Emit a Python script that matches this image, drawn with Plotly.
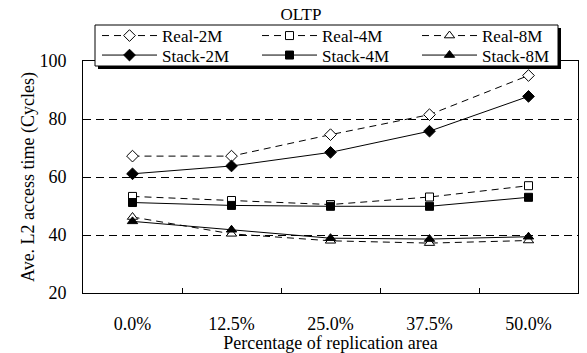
import plotly.graph_objects as go

# Replication area percentages (x categories)
categories = ["0.0%", "12.5%", "25.0%", "37.5%", "50.0%"]

# Average L2 access time (cycles)
real_2m = [67.2, 67.2, 74.6, 81.5, 95.0]
real_4m = [53.3, 51.9, 50.5, 53.1, 57.0]
real_8m = [46.2, 40.4, 38.0, 37.2, 38.1]
stack_2m = [61.1, 63.8, 68.5, 75.8, 87.8]
stack_4m = [51.2, 50.2, 49.9, 49.9, 53.0]
stack_8m = [44.7, 41.8, 38.9, 38.6, 39.4]

W, H = 587, 353
L, R, T, B = 83, 9, 61, 60
FONT = "Liberation Serif"

# name, values, symbol, fill, dash, size, legend row
series = [
    ("Real-2M", real_2m, "diamond", "white", "7px,5px", 9, "legend"),
    ("Real-4M", real_4m, "square", "white", "7px,5px", 8, "legend"),
    ("Real-8M", real_8m, "triangle-up", "white", "7px,5px", 9, "legend"),
    ("Stack-2M", stack_2m, "diamond", "black", "solid", 9, "legend2"),
    ("Stack-4M", stack_4m, "square", "black", "solid", 8, "legend2"),
    ("Stack-8M", stack_8m, "triangle-up", "black", "solid", 9, "legend2"),
]

fig = go.Figure()
for name, vals, sym, fill, dash, size, leg in series:
    fig.add_trace(go.Scatter(
        x=categories, y=vals, name=name, mode="lines+markers",
        line=dict(color="black", width=1, dash=dash),
        marker=dict(symbol=sym, size=size, color=fill,
                    line=dict(color="black", width=1)),
        legend=leg,
    ))

# legend frame with drop shadow, in paper coordinates of the plot area
pw, ph = W - L - R, H - T - B
def px_x(v):
    return (v - L) / pw
def px_y(v):
    return (H - B - v) / ph

bx0, bx1, by0, by1 = 95, 558, 25, 66
fig.add_shape(type="rect", xref="paper", yref="paper", layer="above",
              x0=px_x(bx0 + 3), x1=px_x(bx1 + 3), y0=px_y(by1 + 3), y1=px_y(by0 + 3),
              fillcolor="black", line=dict(width=0))
fig.add_shape(type="rect", xref="paper", yref="paper", layer="above",
              x0=px_x(bx0), x1=px_x(bx1), y0=px_y(by1), y1=px_y(by0),
              fillcolor="white", line=dict(color="black", width=1))

legend_style = dict(
    orientation="h", xanchor="left", yanchor="middle",
    bgcolor="rgba(0,0,0,0)", borderwidth=0,
    entrywidth=90, entrywidthmode="pixels", itemwidth=55,
    font=dict(family=FONT, size=17),
)

fig.update_layout(
    width=W, height=H,
    margin=dict(l=L, r=R, t=T, b=B, autoexpand=False),
    paper_bgcolor="white", plot_bgcolor="white",
    font=dict(family=FONT, size=18, color="black"),
    title=dict(text="OLTP", x=301 / W, xanchor="center", y=1 - 14 / H,
               yanchor="middle", font=dict(family=FONT, size=17)),
    showlegend=True,
    legend=dict(x=px_x(bx0 + 2), y=px_y(36), **legend_style),
    legend2=dict(x=px_x(bx0 + 2), y=px_y(55.5), **legend_style),
    xaxis=dict(
        type="category", range=[-0.5, 4.5],
        showline=True, linecolor="black", linewidth=1, mirror=True,
        ticks="inside", tickson="boundaries", ticklen=5, tickcolor="black",
        showgrid=False, ticklabelstandoff=14,
        tickfont=dict(family=FONT, size=18),
        title=dict(text="Percentage of replication area", standoff=2,
                   font=dict(family=FONT, size=18)),
    ),
    yaxis=dict(
        range=[20, 100], dtick=20, tick0=20,
        showline=True, linecolor="black", linewidth=1, mirror=True,
        ticks="inside", ticklen=5, tickcolor="black",
        showgrid=True, gridcolor="black", gridwidth=1, griddash="8px,5px",
        zeroline=False, ticklabelstandoff=12,
        tickfont=dict(family=FONT, size=18),
        title=dict(text="Ave. L2 access time (Cycles)", standoff=0,
                   font=dict(family=FONT, size=18)),
    ),
)

fig.write_html("out.html")
